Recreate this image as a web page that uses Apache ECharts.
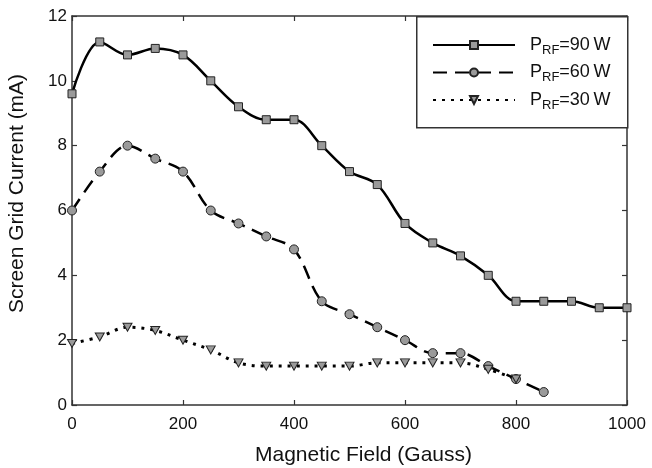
<!DOCTYPE html>
<html><head><meta charset="utf-8">
<script src="https://cdn.jsdelivr.net/npm/echarts@6/dist/echarts.min.js"></script>
<style>html,body{margin:0;padding:0;background:#fff}#c{width:652px;height:468px}</style>
</head><body><div id="c"></div>
<script>
const field90 = [0,50,100,150,200,250,300,350,400,450,500,550,600,650,700,750,800,850,900,950,1000];
const current90 = [9.6,11.2,10.8,11.0,10.8,10.0,9.2,8.8,8.8,8.0,7.2,6.8,5.6,5.0,4.6,4.0,3.2,3.2,3.2,3.0,3.0];
const field60 = [0,50,100,150,200,250,300,350,400,450,500,550,600,650,700,750,800,850];
const current60 = [6.0,7.2,8.0,7.6,7.2,6.0,5.6,5.2,4.8,3.2,2.8,2.4,2.0,1.6,1.6,1.2,0.8,0.4];
const field30 = [0,50,100,150,200,250,300,350,400,450,500,550,600,650,700,750,800];
const current30 = [1.9,2.1,2.4,2.3,2.0,1.7,1.3,1.2,1.2,1.2,1.2,1.3,1.3,1.3,1.3,1.1,0.8];
const seriesNames = ['90', '60', '30'];
const xTicks = [0, 200, 400, 600, 800, 1000];
const yTicks = [0, 2, 4, 6, 8, 10, 12];

const FONT = 'Liberation Sans, Arial, sans-serif';
const zip = (a, b) => a.map((v, i) => [v, b[i]]);
const chart = echarts.init(document.getElementById('c'), null, {renderer: 'canvas'});
const axisCol = '#333';
const mk = {color: '#9a9a9a', borderColor: '#222', borderWidth: 1};
const baseAxis = {
  axisLine: {show: true, onZero: false, lineStyle: {color: axisCol, width: 1.5}},
  axisTick: {show: true, inside: true, length: 5, lineStyle: {color: axisCol, width: 1.2}},
  splitLine: {show: false}
};
chart.setOption({
  animation: false,
  grid: {left: 72, right: 25, top: 16, bottom: 63, containLabel: false, outerBoundsMode: 'none'},
  xAxis: [
    Object.assign({}, baseAxis, {type: 'value', min: xTicks[0], max: xTicks[xTicks.length-1], interval: 200,
      name: 'Magnetic Field (Gauss)', nameLocation: 'middle', nameGap: 40,
      nameTextStyle: {fontFamily: FONT, fontSize: 21, color: '#111', padding: [0, 0, 0, 28]},
      axisLabel: {fontFamily: FONT, fontSize: 17, color: '#111', margin: 11, formatter: (v) => String(v)}}),
    Object.assign({}, baseAxis, {type: 'value', position: 'top', min: 0, max: 1000, interval: 200, axisLabel: {show: false}})
  ],
  yAxis: [
    Object.assign({}, baseAxis, {type: 'value', min: yTicks[0], max: yTicks[yTicks.length-1], interval: 2,
      name: 'Screen Grid Current (mA)', nameLocation: 'middle', nameGap: 44,
      nameTextStyle: {fontFamily: FONT, fontSize: 21, color: '#111', padding: [0, 0, 0, 34]},
      axisLabel: {fontFamily: FONT, fontSize: 17, color: '#111', margin: 5}}),
    Object.assign({}, baseAxis, {type: 'value', position: 'right', min: 0, max: 12, interval: 2, axisLabel: {show: false}})
  ],
  graphic: [{type: 'rect', left: 416, top: 16, shape: {width: 211, height: 111},
    style: {fill: '#fff', stroke: axisCol, lineWidth: 1.5}, z: 5}],
  legend: {
    left: 427, top: 31, orient: 'vertical', itemWidth: 82, itemHeight: 10, itemGap: 7,
    z: 10, selectedMode: false,
    formatter: (n) => '{p|P}{s|RF}{p|=' + n + '\u2009W}',
    textStyle: {fontFamily: FONT, color: '#111', padding: [0, 0, 0, 10],
      rich: {p: {fontSize: 18, fontFamily: FONT, color: '#111', verticalAlign: 'middle'},
             s: {fontSize: 13, fontFamily: FONT, color: '#111', padding: [10, 0, 0, 0]}}}
  },
  series: [
    {name: seriesNames[0], type: 'line', data: zip(field90, current90), smooth: 0.35,
     symbol: 'rect', symbolSize: 8, itemStyle: mk, lineStyle: {color: '#000', width: 2.5}},
    {name: seriesNames[1], type: 'line', data: zip(field60, current60), smooth: 0.35,
     symbol: 'circle', symbolSize: 9, itemStyle: mk, lineStyle: {color: '#000', width: 2.5, type: [14, 8]}},
    {name: seriesNames[2], type: 'line', data: zip(field30, current30), smooth: 0.35,
     symbol: 'path://M0,0 L10,0 L5,9 Z', symbolSize: [9, 8], itemStyle: mk,
     lineStyle: {color: '#000', width: 3, type: [3, 6]}}
  ]
});
</script></body></html>
